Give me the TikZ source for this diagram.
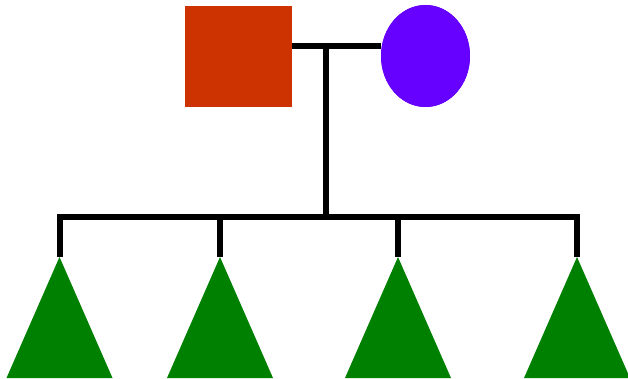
\documentclass[tikz,border=0pt]{standalone}
\usetikzlibrary{shapes.geometric,calc}
\definecolor{sqred}{HTML}{CC3300}
\definecolor{circpurple}{HTML}{6600FF}
\definecolor{trigreen}{HTML}{008000}
\begin{document}
\begin{tikzpicture}[x=1pt,y=-1pt,
  link/.style={line width=6pt,black},
  malebox/.style={rectangle,fill=sqred,draw=none,minimum width=107pt,minimum height=101pt,inner sep=0pt},
  femaleoval/.style={ellipse,fill=circpurple,draw=none,minimum width=89pt,minimum height=102pt,inner sep=0pt},
  kidtri/.style={fill=trigreen,draw=none}]
\useasboundingbox (0,0) rectangle (628,379);
% coordinates
\coordinate (mid) at (326,46);
\coordinate (sib) at (326,217);
\coordinate (k1) at (59.5,257);
\coordinate (k2) at (220,257);
\coordinate (k3) at (398,257);
\coordinate (k4) at (577,257);
% connectors
\node[malebox] (father) at (238.5,56.5) {};
\node[femaleoval] (mother) at (425.5,56) {};
\draw[link] (father.east |- mid) -- (mother.west |- mid);
\draw[link] (326,43) -- (sib);
\draw[link] ($(k1)+(0,-40)$) -- ($(k4)+(0,-40)$);
\foreach \k in {k1,k2,k3,k4}{
  \draw[link] ([yshift=43pt]\k) -- (\k);
}
% redraw shapes on top
\node[malebox] at (father) {};
\node[femaleoval] at (mother) {};
\foreach \k in {k1,k2,k3,k4}{
  \fill[kidtri] (\k) -- ++(53,121) -- ++(-106,0) -- cycle;
}
\end{tikzpicture}
\end{document}
